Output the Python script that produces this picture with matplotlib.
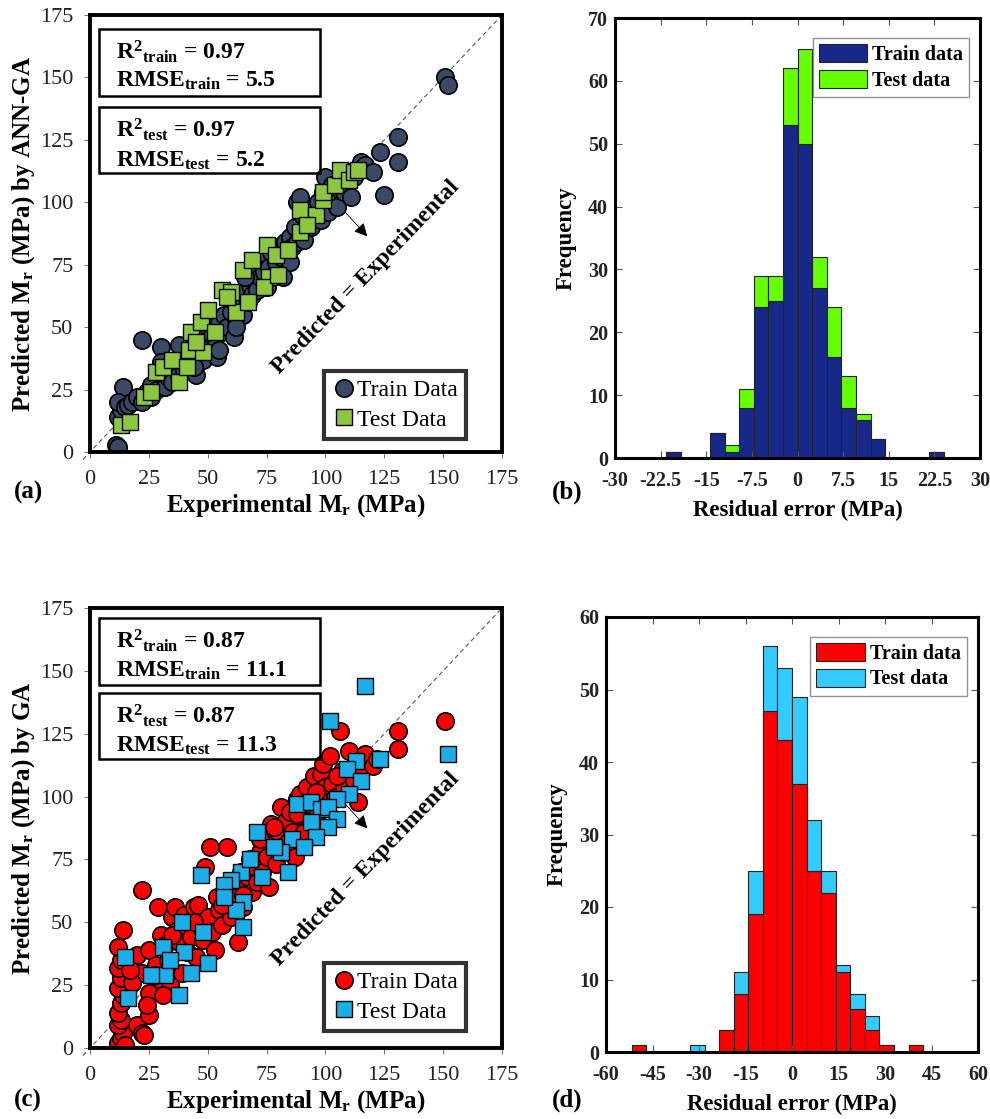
import numpy as np
import matplotlib
matplotlib.use("Agg")
import matplotlib.pyplot as plt
from matplotlib.patches import Rectangle

plt.rcParams['font.family'] = ['Liberation Serif', 'DejaVu Serif']
plt.rcParams['mathtext.fontset'] = 'custom'
plt.rcParams['mathtext.rm'] = 'Liberation Serif:bold'
plt.rcParams['mathtext.it'] = 'Liberation Serif:bold'
plt.rcParams['mathtext.bf'] = 'Liberation Serif:bold'

# ---------------- data ----------------
# (a) ANN-GA, train points (experimental, predicted)
a_train_x = [11, 12, 12, 13, 14, 14, 12, 15, 16, 18, 20, 22, 24, 22, 26, 28, 30, 32, 33, 35,
             35, 37, 38, 40, 40, 42, 43, 45, 45, 46, 47, 48, 50, 50, 52, 53, 54, 55, 56, 57,
             58, 60, 61, 61, 62, 63, 64, 65, 65, 67, 68, 68, 69, 70, 70, 71, 72, 73, 74, 75,
             75, 76, 77, 78, 79, 80, 81, 82, 83, 84, 85, 85, 86, 87, 88, 88, 89, 90, 90, 91,
             92, 93, 94, 95, 96, 97, 98, 99, 100, 100, 101, 102, 103, 104, 105, 106, 107, 108, 110, 111,
             112, 114, 115, 117, 120, 123, 125, 131, 131, 151, 152, 30, 55, 62, 66, 44, 38, 26]
a_train_y = [3, 2, 14, 17, 21, 26, 20, 18, 19, 20, 22, 20, 24, 45, 27, 25, 42, 26, 30, 33,
             28, 35, 31, 38, 33, 36, 40, 31, 38, 44, 42, 37, 45, 50, 47, 42, 38, 52, 48, 55,
             50, 56, 46, 60, 53, 58, 62, 64, 55, 60, 67, 72, 63, 68, 75, 65, 70, 77, 72, 79,
             66, 74, 80, 71, 76, 82, 78, 70, 84, 80, 86, 76, 82, 90, 84, 100, 102, 88, 95, 85,
             92, 97, 90, 98, 94, 100, 93, 104, 99, 110, 96, 103, 107, 100, 98, 105, 110, 104, 112, 102,
             110, 113, 116, 115, 112, 120, 103, 126, 116, 150, 147, 36, 41, 50, 70, 34, 43, 22]
# (a) test points
a_test_x = [13, 17, 23, 26, 28, 31, 35, 38, 41, 42, 48, 43, 47, 50, 53, 56, 60, 62, 67, 65,
            69, 75, 79, 76, 74, 80, 84, 89, 89, 96, 99, 99, 104, 106, 110, 112, 114, 92, 58, 45]
a_test_y = [11, 12, 22, 24, 32, 34, 37, 28, 34, 41, 40, 48, 52, 57, 48, 65, 64, 56, 60, 73,
            77, 83, 79, 70, 66, 71, 81, 88, 97, 95, 101, 104, 107, 113, 109, 112, 113, 91, 62, 44]

# (c) GA, train points
c_train_x = [12, 13, 14, 15, 12, 13, 12, 13, 14, 12, 13, 12, 13, 12, 14, 20, 22, 23, 25, 25,
             22, 20, 25, 28, 30, 29, 22, 30, 32, 33, 34, 35, 36, 37, 38, 39, 40, 41, 42, 43,
             44, 45, 46, 47, 48, 49, 50, 51, 52, 53, 54, 55, 56, 57, 58, 59, 60, 61, 62, 63,
             64, 65, 66, 67, 68, 69, 70, 71, 72, 73, 74, 75, 76, 77, 78, 79, 80, 81, 82, 83,
             84, 85, 86, 87, 88, 89, 90, 91, 92, 93, 94, 95, 96, 97, 98, 99, 100, 101, 102, 103,
             104, 106, 107, 108, 110, 112, 114, 115, 117, 120, 122, 131, 131, 151, 18, 17, 27, 35,
             44, 56, 65, 72, 78, 88, 96, 105, 24, 31]
c_train_y = [2, 4, 6, 1, 9, 11, 14, 18, 21, 24, 28, 32, 35, 40, 47, 9, 6, 5, 13, 22,
             30, 37, 39, 33, 45, 56, 63, 27, 41, 35, 25, 52, 56, 47, 42, 30, 53, 38, 50, 44,
             56, 36, 57, 48, 43, 72, 52, 80, 46, 39, 60, 55, 49, 62, 80, 58, 52, 66, 60, 42,
             70, 56, 64, 68, 75, 62, 72, 66, 78, 70, 84, 76, 64, 89, 80, 73, 86, 96, 78, 90,
             82, 94, 86, 76, 99, 101, 92, 86, 104, 97, 90, 108, 100, 94, 109, 113, 104, 98, 116, 105,
             100, 126, 110, 104, 118, 106, 98, 112, 117, 112, 115, 126, 119, 130, 26, 31, 29, 45,
             50, 57, 61, 83, 88, 93, 102, 108, 17, 21]
# (c) test points
c_test_x = [117, 102, 152, 123, 113, 109, 115, 110, 105, 88, 94, 98, 101, 94, 105, 101, 96, 86, 71, 81,
            78, 84, 73, 64, 60, 57, 47, 65, 62, 57, 39, 48, 65, 31, 40, 50, 43, 32, 26, 15,
            38, 16, 34, 91, 68]
c_test_y = [144, 130, 117, 115, 114, 111, 106, 101, 99, 97, 98, 95, 96, 90, 91, 88, 84, 83, 86, 78,
            80, 70, 68, 70, 67, 65, 69, 58, 55, 60, 50, 46, 48, 40, 38, 34, 30, 29, 29, 36,
            21, 20, 35, 80, 75]

# (b) residual histogram, ANN-GA (bin left edges, width 2.4)
b_left = [-21.6, -19.2, -16.8, -14.4, -12.0, -9.6, -7.2, -4.8, -2.4, 0.0,
          2.4, 4.8, 7.2, 9.6, 12.0, 14.4, 16.8, 19.2, 21.6]
b_train = [1, 0, 0, 4, 1, 8, 24, 25, 53, 50, 27, 16, 8, 6, 3, 0, 0, 0, 1]
b_test = [0, 0, 0, 0, 1, 3, 5, 4, 9, 15, 5, 8, 5, 1, 0, 0, 0, 0, 0]
b_width = 2.4

# (d) residual histogram, GA (bin left edges, width 4.7)
d_left = [-51.7, -47.0, -42.3, -37.6, -32.9, -28.2, -23.5, -18.8, -14.1, -9.4,
          -4.7, 0.0, 4.7, 9.4, 14.1, 18.8, 23.5, 28.2, 32.9, 37.6]
d_train = [1, 0, 0, 0, 0, 0, 3, 8, 19, 47, 43, 37, 25, 22, 11, 6, 3, 1, 0, 1]
d_test = [0, 0, 0, 0, 1, 0, 0, 3, 6, 9, 10, 12, 7, 3, 1, 2, 2, 0, 0, 0]
d_width = 4.7

a_stats = [r'R$^{2}{}_{train}$ = 0.97', r'RMSE$_{train}$ = 5.5',
           r'R$^{2}{}_{test}$ = 0.97', r'RMSE$_{test}$ = 5.2']
c_stats = [r'R$^{2}{}_{train}$ = 0.87', r'RMSE$_{train}$ = 11.1',
           r'R$^{2}{}_{test}$ = 0.87', r'RMSE$_{test}$ = 11.3']

W, H = 990, 1119
fig = plt.figure(figsize=(W / 100, H / 100), dpi=100)


def px_axes(l, t, r, b):
    return fig.add_axes([l / W, 1 - b / H, (r - l) / W, (b - t) / H])


def scatter_panel(ax, trx, try_, tex, tey, c_tr, c_te, stats, ylabel, box_y, txt_y, leg_y, note_y):
    ax.plot([-3, 175], [-3, 175], ls=(0, (4, 3)), color='#555555', lw=0.8, clip_on=False, zorder=1)
    ax.plot(trx, try_, 'o', ms=12.5, mfc=c_tr, mec='black', mew=1.2, ls='none',
            label='Train Data', zorder=2)
    ax.plot(tex, tey, 's', ms=11.5, mfc=c_te, mec='black', mew=1.0, ls='none',
            label='Test Data', zorder=3)
    ax.set_xlim(0, 175)
    ax.set_ylim(0, 175)
    ticks = [0, 25, 50, 75, 100, 125, 150, 175]
    ax.set_xticks(ticks)
    ax.set_yticks(ticks)
    ax.tick_params(direction='out', length=4, width=0.8, color='#777777', labelsize=16,
                   labelcolor='#222222')
    ax.tick_params(axis='x', pad=9)
    ax.tick_params(axis='y', pad=8)
    for s in ax.spines.values():
        s.set_linewidth(2.8)
    ax.set_xlabel(r'Experimental M$_r$ (MPa)', fontsize=18, fontweight='bold', labelpad=2)
    ax.set_ylabel(ylabel, fontsize=18, fontweight='bold', labelpad=2)

    # stats boxes
    for k, (y0, y1) in enumerate(box_y):
        ax.add_patch(Rectangle((0.022, y0), 0.536, y1 - y0, transform=ax.transAxes,
                               fill=False, ec='black', lw=1.8, zorder=5))
    for s, y in zip(stats, txt_y):
        ax.text(0.063, y, s, transform=ax.transAxes, fontsize=17, fontweight='bold',
                va='baseline', ha='left', zorder=6)

    ax.text(117, note_y, 'Predicted = Experimental', rotation=46, rotation_mode='anchor',
            ha='center', va='center', fontsize=17, fontweight='bold')
    ax.annotate('', xy=(118.6, note_y + 15.5), xytext=(107.5, note_y + 27),
                arrowprops=dict(arrowstyle='-|>', lw=0.6, color='black', mutation_scale=20))

    leg = ax.legend(loc='lower left', bbox_to_anchor=(0.568, leg_y), fontsize=17,
                    frameon=True, fancybox=False, handletextpad=0.05, borderpad=0.35,
                    labelspacing=0.35, handlelength=1.0, borderaxespad=0)
    leg.get_frame().set_edgecolor('black')
    leg.get_frame().set_linewidth(3)


def hist_panel(ax, left, width, train, test, c_tr, c_te, xlim, xticks, ylim, yticks):
    ax.bar(left, train, width=width, align='edge', color=c_tr, edgecolor='#222222', lw=0.8,
           label='Train data')
    ax.bar(left, test, width=width, bottom=train, align='edge', color=c_te, edgecolor='#222222',
           lw=0.8, label='Test data')
    ax.set_xlim(*xlim)
    ax.set_ylim(*ylim)
    ax.set_xticks(xticks)
    ax.set_yticks(yticks)
    ax.set_xticklabels([('%g' % t) for t in xticks], fontweight='bold')
    ax.set_yticklabels([('%g' % t) for t in yticks], fontweight='bold')
    ax.tick_params(direction='in', length=5, width=0.8, top=True, right=True, labelsize=14.5,
                   color='#555555', labelcolor='#222222')
    ax.tick_params(axis='x', pad=9)
    ax.tick_params(axis='y', pad=5)
    for s in ax.spines.values():
        s.set_linewidth(2.2)
    ax.set_xlabel('Residual error (MPa)', fontsize=16.5, fontweight='bold', labelpad=7)
    ax.set_ylabel('Frequency', fontsize=16.5, fontweight='bold', labelpad=8)
    leg = ax.legend(loc='upper right', bbox_to_anchor=(0.97, 0.955),
                    prop={'weight': 'bold', 'size': 14.5},
                    fancybox=False, handlelength=2.4, handleheight=1.0, handletextpad=0.25,
                    labelspacing=0.25, borderpad=0.3, borderaxespad=0)
    leg.get_frame().set_edgecolor('#777777')
    leg.get_frame().set_linewidth(1.0)


ax_a = px_axes(90, 15, 502, 452)
scatter_panel(ax_a, a_train_x, a_train_y, a_test_x, a_test_y, '#3A4966', '#8DC63F', a_stats,
              r'Predicted M$_r$ (MPa) by ANN-GA',
              [(0.815, 0.968), (0.638, 0.789)], [0.899, 0.835, 0.721, 0.654], 0.03, 70)

ax_c = px_axes(90, 608, 502, 1048)
scatter_panel(ax_c, c_train_x, c_train_y, c_test_x, c_test_y, '#FF0000', '#1BAEE8', c_stats,
              r'Predicted M$_r$ (MPa) by GA',
              [(0.825, 0.977), (0.657, 0.807)], [0.909, 0.843, 0.739, 0.673], 0.039, 71)

ax_b = px_axes(615, 18, 980, 458)
hist_panel(ax_b, b_left, b_width, b_train, b_test, '#16288A', '#66FF00',
           (-30, 30), [-30, -22.5, -15, -7.5, 0, 7.5, 15, 22.5, 30], (0, 70), range(0, 71, 10))

ax_d = px_axes(606, 617, 978, 1052)
hist_panel(ax_d, d_left, d_width, d_train, d_test, '#FF0000', '#33CCFF',
           (-60, 60), [-60, -45, -30, -15, 0, 15, 30, 45, 60], (0, 60), range(0, 61, 10))

for lab, x, y in [('(a)', 14, 492), ('(b)', 552, 492), ('(c)', 14, 1100), ('(d)', 552, 1100)]:
    fig.text(x / W, 1 - y / H, lab, fontsize=18, fontweight='bold', va='center', ha='left')

fig.savefig('out.png', dpi=100)
